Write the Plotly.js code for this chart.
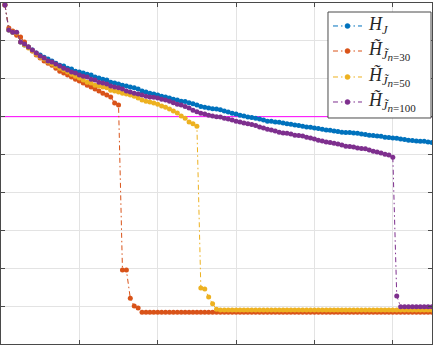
<!DOCTYPE html>
<html>
<head>
<meta charset="utf-8">
<script src="https://cdn.plot.ly/plotly-3.0.1.min.js"></script>
<style>
  html, body { margin: 0; padding: 0; background: #ffffff; }
  #chart { width: 435px; height: 348px; }
</style>
</head>
<body>
<div id="chart"></div>
<script>
// Sorted entropy values of the full set and of the truncated sets (n = 30, 50, 100)
const hJ = [
  8.95, 8.29, 8.23, 8.21, 7.97, 7.89, 7.84, 7.76, 7.68, 7.63,
  7.57, 7.52, 7.47, 7.41, 7.36, 7.34, 7.28, 7.26, 7.20, 7.18,
  7.15, 7.12, 7.10, 7.05, 7.02, 6.99, 6.97, 6.91, 6.89, 6.86,
  6.83, 6.81, 6.78, 6.76, 6.73, 6.68, 6.65, 6.62, 6.60, 6.57,
  6.54, 6.52, 6.49, 6.46, 6.44, 6.41, 6.40, 6.37, 6.34, 6.31,
  6.27, 6.25, 6.23, 6.21, 6.20, 6.18, 6.15, 6.12, 6.09, 6.07,
  6.04, 6.02, 5.99, 5.98, 5.96, 5.94, 5.91, 5.88, 5.88, 5.86,
  5.85, 5.83, 5.81, 5.80, 5.78, 5.77, 5.75, 5.73, 5.72, 5.70,
  5.69, 5.67, 5.65, 5.64, 5.62, 5.61, 5.59, 5.58, 5.58, 5.57,
  5.56, 5.54, 5.53, 5.51, 5.50, 5.49, 5.48, 5.46, 5.45, 5.44,
  5.43, 5.41, 5.40, 5.38, 5.37, 5.36, 5.35, 5.35, 5.33, 5.32
];

const hJn30 = [
  8.95, 8.34, 8.26, 8.15, 8.10, 7.97, 7.84, 7.73, 7.63, 7.55,
  7.47, 7.41, 7.36, 7.28, 7.20, 7.15, 7.10, 7.05, 6.99, 6.94,
  6.89, 6.83, 6.78, 6.73, 6.68, 6.62, 6.57, 6.52, 6.36, 6.31,
  1.95, 1.95, 1.21, 1.00, 0.95, 0.84, 0.84, 0.84, 0.84, 0.84,
  0.84, 0.84, 0.84, 0.84, 0.84, 0.84, 0.84, 0.84, 0.84, 0.84,
  0.84, 0.84, 0.84, 0.84, 0.84, 0.84, 0.84, 0.84, 0.84, 0.84,
  0.84, 0.84, 0.84, 0.84, 0.84, 0.84, 0.84, 0.84, 0.84, 0.84,
  0.84, 0.84, 0.84, 0.84, 0.84, 0.84, 0.84, 0.84, 0.84, 0.84,
  0.84, 0.84, 0.84, 0.84, 0.84, 0.84, 0.84, 0.84, 0.84, 0.84,
  0.84, 0.84, 0.84, 0.84, 0.84, 0.84, 0.84, 0.84, 0.84, 0.84,
  0.84, 0.84, 0.84, 0.84, 0.84, 0.84, 0.84, 0.84, 0.84, 0.84
];

const hJn50 = [
  8.95, 8.29, 8.23, 8.21, 7.97, 7.89, 7.81, 7.73, 7.65, 7.57,
  7.52, 7.44, 7.39, 7.34, 7.28, 7.23, 7.18, 7.12, 7.07, 7.02,
  6.97, 6.91, 6.89, 6.83, 6.81, 6.78, 6.76, 6.70, 6.68, 6.65,
  6.62, 6.60, 6.57, 6.54, 6.49, 6.44, 6.41, 6.39, 6.36, 6.33,
  6.28, 6.25, 6.20, 6.15, 6.10, 6.02, 5.96, 5.86, 5.81, 5.75,
  1.48, 1.45, 1.24, 1.06, 0.92, 0.90, 0.90, 0.90, 0.90, 0.90,
  0.90, 0.90, 0.90, 0.90, 0.90, 0.90, 0.90, 0.90, 0.90, 0.90,
  0.90, 0.90, 0.90, 0.90, 0.90, 0.90, 0.90, 0.90, 0.90, 0.90,
  0.90, 0.90, 0.90, 0.90, 0.90, 0.90, 0.90, 0.90, 0.90, 0.90,
  0.90, 0.90, 0.90, 0.90, 0.90, 0.90, 0.90, 0.90, 0.90, 0.90,
  0.90, 0.90, 0.90, 0.90, 0.90, 0.90, 0.90, 0.90, 0.90, 0.90
];

const hJn100 = [
  8.95, 8.29, 8.23, 8.23, 7.97, 7.92, 7.84, 7.76, 7.68, 7.60,
  7.55, 7.47, 7.44, 7.39, 7.34, 7.28, 7.23, 7.18, 7.15, 7.10,
  7.07, 7.05, 6.99, 6.97, 6.91, 6.89, 6.86, 6.81, 6.78, 6.76,
  6.73, 6.68, 6.65, 6.62, 6.60, 6.57, 6.54, 6.52, 6.51, 6.49,
  6.46, 6.44, 6.41, 6.37, 6.33, 6.31, 6.27, 6.23, 6.17, 6.13,
  6.09, 6.07, 6.04, 6.02, 6.00, 5.99, 5.96, 5.94, 5.91, 5.88,
  5.86, 5.83, 5.81, 5.79, 5.77, 5.73, 5.70, 5.67, 5.65, 5.62,
  5.59, 5.57, 5.56, 5.54, 5.51, 5.50, 5.49, 5.46, 5.44, 5.41,
  5.38, 5.36, 5.33, 5.32, 5.30, 5.28, 5.25, 5.22, 5.21, 5.20,
  5.17, 5.16, 5.15, 5.12, 5.09, 5.07, 5.04, 5.01, 4.99, 4.93,
  1.27, 0.98, 0.98, 0.98, 0.98, 0.98, 0.98, 0.98, 0.98, 0.98
];

const threshold = 6.0;
const seriesNames = [
  '<i>H</i><sub><i>J</i></sub>',
  '<i>H̃</i><sub><i>J̃</i><sub><span style="font-size:11px"><i>n</i>=30</span></sub></sub>',
  '<i>H̃</i><sub><i>J̃</i><sub><span style="font-size:11px"><i>n</i>=50</span></sub></sub>',
  '<i>H̃</i><sub><i>J̃</i><sub><span style="font-size:11px"><i>n</i>=100</span></sub></sub>'
];
const seriesColors = ['#0072BD', '#D95319', '#EDB120', '#7E2F8E'];
const seriesValues = [hJ, hJn30, hJn50, hJn100];

const lineDash = '5px,3px,1.5px,3px';
const idx = hJ.map((_, i) => i + 1);

// threshold line first so the curves sit on top of it
const traces = [{
  x: [0, 110],
  y: [threshold, threshold],
  mode: 'lines',
  line: { color: '#FF00FF', width: 1 },
  showlegend: false,
  hoverinfo: 'skip'
}];

seriesValues.forEach((vals, k) => {
  traces.push({
    x: idx,
    y: vals,
    name: seriesNames[k],
    mode: 'lines+markers',
    line: { color: seriesColors[k], width: 1, dash: lineDash },
    marker: { color: seriesColors[k], size: 5, symbol: 'circle' },
    showlegend: false
  });
});

// Legend box drawn by hand (paper coordinates) so entry spacing stays even
const legendBox = { x0: 0.7587, x1: 0.9977, y0: 0.6628, y1: 0.9736 };
const legendRows = [0.9326, 0.8592, 0.7830, 0.7097];
const sampleX = [0.7703, 0.8376];
const markerX = 0.8039;
const textX = 0.8492;

const shapes = [{
  type: 'rect', xref: 'paper', yref: 'paper', layer: 'above',
  x0: legendBox.x0, x1: legendBox.x1, y0: legendBox.y0, y1: legendBox.y1,
  fillcolor: '#ffffff', line: { color: '#4a4a4a', width: 1 }
}];
const annotations = [];

legendRows.forEach((yc, k) => {
  shapes.push({
    type: 'line', xref: 'paper', yref: 'paper', layer: 'above',
    x0: sampleX[0], x1: sampleX[1], y0: yc, y1: yc,
    line: { color: seriesColors[k], width: 1, dash: lineDash }
  });
  shapes.push({
    type: 'circle', xref: 'paper', yref: 'paper', layer: 'above',
    xsizemode: 'pixel', ysizemode: 'pixel',
    xanchor: markerX, yanchor: yc,
    x0: -2.5, x1: 2.5, y0: -2.5, y1: 2.5,
    fillcolor: seriesColors[k], line: { color: seriesColors[k], width: 0.5 }
  });
  annotations.push({
    xref: 'paper', yref: 'paper', x: textX, y: yc,
    xanchor: 'left', yanchor: 'middle', showarrow: false,
    borderpad: 0,
    text: seriesNames[k],
    font: { family: 'Liberation Serif, DejaVu Serif, serif', size: 18, color: '#262626' }
  });
});

const axisCommon = {
  showticklabels: false,
  ticks: 'inside',
  ticklen: 4,
  tickcolor: '#4a4a4a',
  showline: true,
  linecolor: '#4a4a4a',
  linewidth: 1,
  mirror: 'ticks',
  showgrid: true,
  gridcolor: '#e3e3e3',
  gridwidth: 1,
  zeroline: false,
  fixedrange: true
};

const layout = {
  width: 435,
  height: 348,
  margin: { l: 1, r: 3, t: 3, b: 4 },
  paper_bgcolor: '#ffffff',
  plot_bgcolor: '#ffffff',
  xaxis: Object.assign({}, axisCommon, { range: [0, 110], dtick: 20, tick0: 0 }),
  yaxis: Object.assign({}, axisCommon, { range: [0, 9], dtick: 1, tick0: 0 }),
  showlegend: false,
  shapes: shapes,
  annotations: annotations
};

Plotly.newPlot('chart', traces, layout, { staticPlot: true, displayModeBar: false });
</script>
</body>
</html>
